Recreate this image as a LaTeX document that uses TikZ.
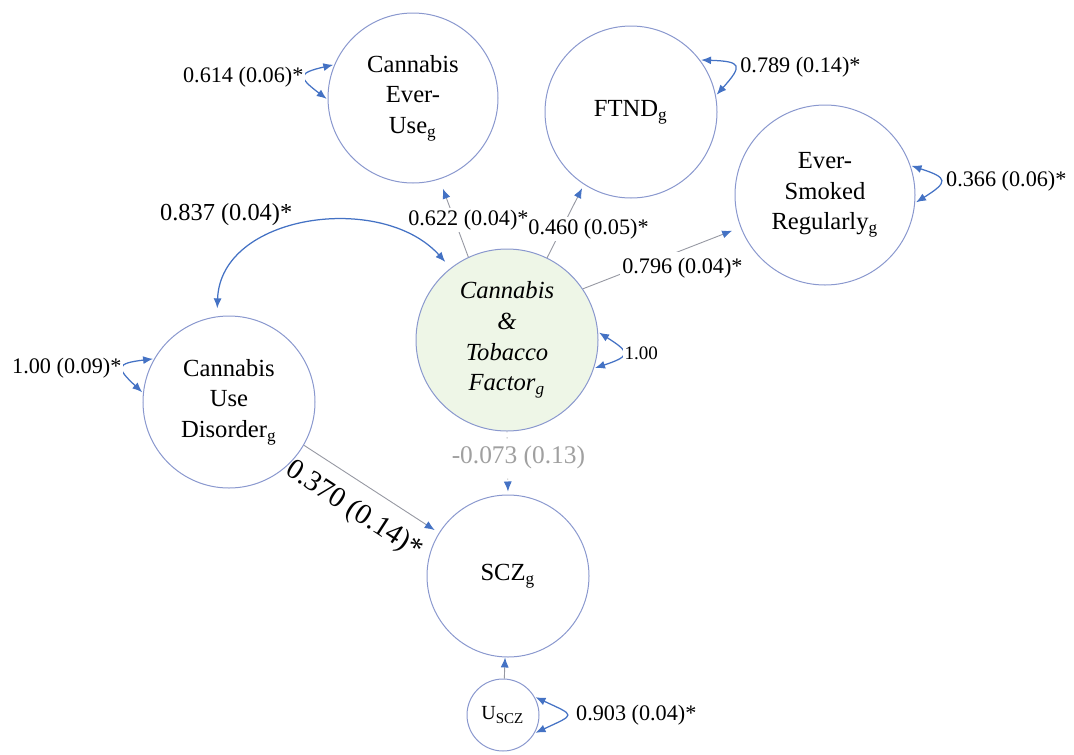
\documentclass[tikz,border=0pt]{standalone}
\usepackage{fontspec}
\setmainfont{Liberation Serif}
\usepackage{tikz}
\usetikzlibrary{arrows.meta,positioning}

\definecolor{ringblue}{RGB}{138,152,206}
\definecolor{tipblue}{RGB}{68,114,196}
\definecolor{linegray}{RGB}{150,152,162}
\definecolor{factorgreen}{RGB}{238,246,231}
\definecolor{nsgray}{RGB}{160,160,160}

\begin{document}
\begin{tikzpicture}[
    x=0.4pt, y=-0.4pt,
    latent/.style={draw=ringblue, line width=0.4pt, circle, align=center, inner sep=0pt, font=\fontsize{9.84}{12.24}\selectfont},
    load/.style={draw=linegray, line width=0.36pt, -{Latex[length=4pt,width=3.2pt,color=tipblue]}},
    covar/.style={draw=tipblue, line width=0.5pt, {Latex[length=4pt,width=3.2pt]}-{Latex[length=4pt,width=3.2pt]}, shorten <=3.2pt, shorten >=3.2pt},
    varloop/.style={covar, shorten <=0.4pt, shorten >=0.4pt, looseness=2.7},
    lbl/.style={fill=white, inner sep=0.8pt, font=\fontsize{8.88}{10.4}\selectfont}
]
\useasboundingbox (0,0) rectangle (1074,754);

% Indicators of the common factor.
\node[latent, minimum size=68pt] (use) at (413,98) {Cannabis\\Ever-\\Use\textsubscript{g}};
\node[latent, minimum size=68.8pt] (ftnd) at (631,112) {FTND\textsubscript{g}};
\node[latent, minimum size=72pt] (smoke) at (825,195) {Ever-\\Smoked\\Regularly\textsubscript{g}};

% Common factor, disorder and outcome.
\node[latent, minimum size=72.8pt, fill=factorgreen, font=\fontsize{9.84}{12.24}\selectfont\itshape] (factor) at (507,340) {Cannabis\\\&\\Tobacco\\Factor\textsubscript{g}};
\node[latent, minimum size=68.8pt] (cud) at (229,402) {Cannabis\\Use\\Disorder\textsubscript{g}};
\node[latent, minimum size=64.8pt] (scz) at (508,576) {SCZ\textsubscript{g}};
\node[latent, minimum size=28.8pt, font=\fontsize{8}{9.6}\selectfont] (uscz) at (503,715) {U\textsubscript{SCZ}};

% Factor loadings.
\draw[load, shorten >=4pt] (factor.115) -- node[lbl, pos=.48, xshift=5.6pt] {0.622 (0.04)*} (use.-72);
\draw[load, shorten >=1.6pt] (factor.64) -- node[lbl, pos=.42, xshift=10.4pt, yshift=-0.8pt] {0.460 (0.05)*} (ftnd.237);
\draw[load, shorten >=3.6pt] (factor.34) -- node[lbl, pos=.6, xshift=2pt, yshift=-6.4pt, inner ysep=2.4pt] {0.796 (0.04)*} (smoke.201);

% Paths into SCZ.
\draw[load, draw=nsgray, dotted, shorten >=1.2pt] (factor.south) -- node[lbl, pos=.41, xshift=4.4pt, inner sep=2.4pt, text=nsgray, font=\fontsize{10.16}{11.2}\selectfont] {-0.073 (0.13)} (scz.north);
\draw[load, shorten >=2pt] (cud.-30) -- node[lbl, sloped, below=4.8pt, pos=.48, fill=none, font=\fontsize{11.6}{12.8}\selectfont] {0.370 (0.14)*} (scz.148);
\draw[load] (uscz) -- (scz);

% Covariance between disorder and factor.
\draw[covar] (cud.98) to[out=88, in=132, looseness=1.1] node[lbl, pos=.45, above left, fill=none, font=\fontsize{9.76}{11.2}\selectfont] {0.837 (0.04)*} (factor.128);

% Variances.
\draw[varloop] (use.157) to[out=193, in=143] node[lbl, left] {0.614 (0.06)*} (use.181);
\draw[varloop] (ftnd.37) to[out=-2, in=48] node[lbl, right=1.6pt] {0.789 (0.14)*} (ftnd.11);
\draw[varloop] (smoke.19) to[out=-18, in=32] node[lbl, right=1.6pt] {0.366 (0.06)*} (smoke.-5);
\draw[varloop] (factor.5) to[out=-32, in=18] node[lbl, right, font=\fontsize{7.6}{8.8}\selectfont] {1.00} (factor.-18);
\draw[varloop] (cud.150) to[out=187, in=137] node[lbl, left] {1.00 (0.09)*} (cud.174);
\draw[varloop, looseness=3.2] (uscz.30) to[out=-25, in=25] node[lbl, right=3.2pt] {0.903 (0.04)*} (uscz.-30);

\end{tikzpicture}
\end{document}
